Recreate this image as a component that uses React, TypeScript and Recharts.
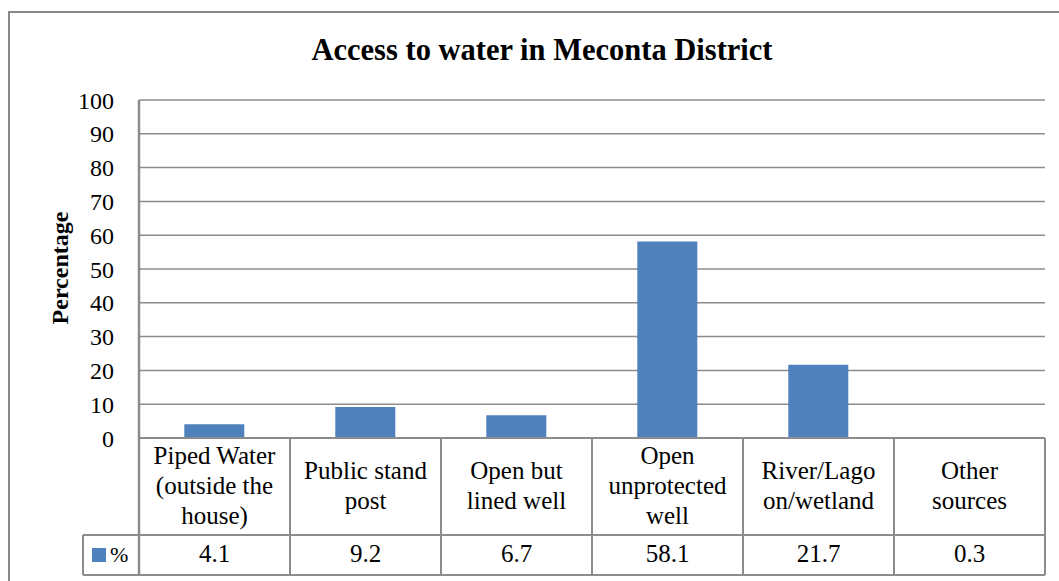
import React from 'react';
import { BarChart, Bar, XAxis, YAxis, CartesianGrid, Customized } from 'recharts';

// Water source categories (line breaks mark wrapping in the data table)
const categories: string[] = [
  'Piped Water\n(outside the\nhouse)',
  'Public stand\npost',
  'Open but\nlined well',
  'Open\nunprotected\nwell',
  'River/Lago\non/wetland',
  'Other\nsources',
];

// Share of households per source, %
const percentValues: number[] = [4.1, 9.2, 6.7, 58.1, 21.7, 0.3];

const yTicks: number[] = [0, 10, 20, 30, 40, 50, 60, 70, 80, 90, 100];

const seriesName = '%';
const chartTitle = 'Access to water in Meconta District';
const yAxisTitle = 'Percentage';

const data = categories.map((c, i) => ({ category: c, value: percentValues[i] }));

const FONT = '"Liberation Serif", "Times New Roman", serif';
const GRID = '#8c8c8c';
const BAR = '#4F81BD';

const CATEGORY_ROW_H = 97;
const VALUE_ROW_H = 40;
const LINE_H = 30;

// Each x-axis tick draws its own column of the data table
const TableTick = (props: any) => {
  const { x, y, payload, index } = props;
  const half = payload && payload.offset ? payload.offset : 75.5;
  const left = x - half;
  const right = x + half;
  const top = y;
  const mid = top + CATEGORY_ROW_H;
  const bottom = mid + VALUE_ROW_H;
  const lines = String(payload.value).split('\n');
  const center = top + CATEGORY_ROW_H / 2 + 7;
  const value = percentValues[index];
  return (
    <g>
      <line x1={left} y1={top} x2={right} y2={top} stroke={GRID} strokeWidth={2} />
      <line x1={left} y1={mid} x2={right} y2={mid} stroke={GRID} strokeWidth={2} />
      <line x1={left} y1={bottom} x2={right} y2={bottom} stroke={GRID} strokeWidth={2} />
      <line x1={right} y1={top} x2={right} y2={bottom} stroke={GRID} strokeWidth={2} />
      {index === 0 && (
        <g>
          <line x1={left} y1={top} x2={left} y2={bottom} stroke={GRID} strokeWidth={2.5} />
          <line x1={left - 56} y1={mid} x2={left} y2={mid} stroke={GRID} strokeWidth={2} />
          <line x1={left - 56} y1={bottom} x2={left} y2={bottom} stroke={GRID} strokeWidth={2} />
          <line x1={left - 56} y1={mid} x2={left - 56} y2={bottom} stroke={GRID} strokeWidth={2} />
          <rect x={left - 47} y={mid + 13} width={14} height={14} fill={BAR} />
          <text x={left - 29} y={mid + 27} fontFamily={FONT} fontSize={22} fill="#000">
            {seriesName}
          </text>
        </g>
      )}
      <text textAnchor="middle" fontFamily={FONT} fontSize={25} fill="#000">
        {lines.map((ln, i) => (
          <tspan key={i} x={x} y={center + (i - (lines.length - 1) / 2) * LINE_H}>
            {ln}
          </tspan>
        ))}
      </text>
      <text x={x} y={mid + 27} textAnchor="middle" fontFamily={FONT} fontSize={25} fill="#000">
        {value}
      </text>
    </g>
  );
};

const Decorations = () => (
  <g>
    <rect x={9} y={12} width={1100} height={700} fill="none" stroke="#878787" strokeWidth={2} />
    <text x={542} y={60} textAnchor="middle" fontFamily={FONT} fontSize={30.5} fontWeight="bold" fill="#000">
      {chartTitle}
    </text>
    <text
      x={68}
      y={268}
      transform="rotate(-90 68 268)"
      textAnchor="middle"
      fontFamily={FONT}
      fontSize={24}
      fontWeight="bold"
      fill="#000"
    >
      {yAxisTitle}
    </text>
  </g>
);

export default function App() {
  return (
    <div style={{ position: 'absolute', left: 0, top: 0, width: 1059, height: 581, background: '#fff' }}>
      <BarChart
        width={1059}
        height={581}
        data={data}
        margin={{ top: 100, right: 14, bottom: 6, left: 0 }}
        barCategoryGap="30%"
      >
        <CartesianGrid vertical={false} stroke={GRID} strokeWidth={1.5} />
        <YAxis
          type="number"
          domain={[0, 100]}
          ticks={yTicks}
          interval={0}
          width={139}
          axisLine={{ stroke: GRID, strokeWidth: 2.5 }}
          tickLine={false}
          tickSize={0}
          tickMargin={25}
          tick={{ fontFamily: FONT, fontSize: 24, fill: '#000' }}
        />
        <XAxis
          dataKey="category"
          type="category"
          interval={0}
          height={137}
          axisLine={false}
          tickLine={false}
          tickSize={0}
          tickMargin={0}
          tick={<TableTick />}
        />
        <Bar dataKey="value" fill={BAR} isAnimationActive={false} />
        <Customized component={Decorations} />
      </BarChart>
    </div>
  );
}
